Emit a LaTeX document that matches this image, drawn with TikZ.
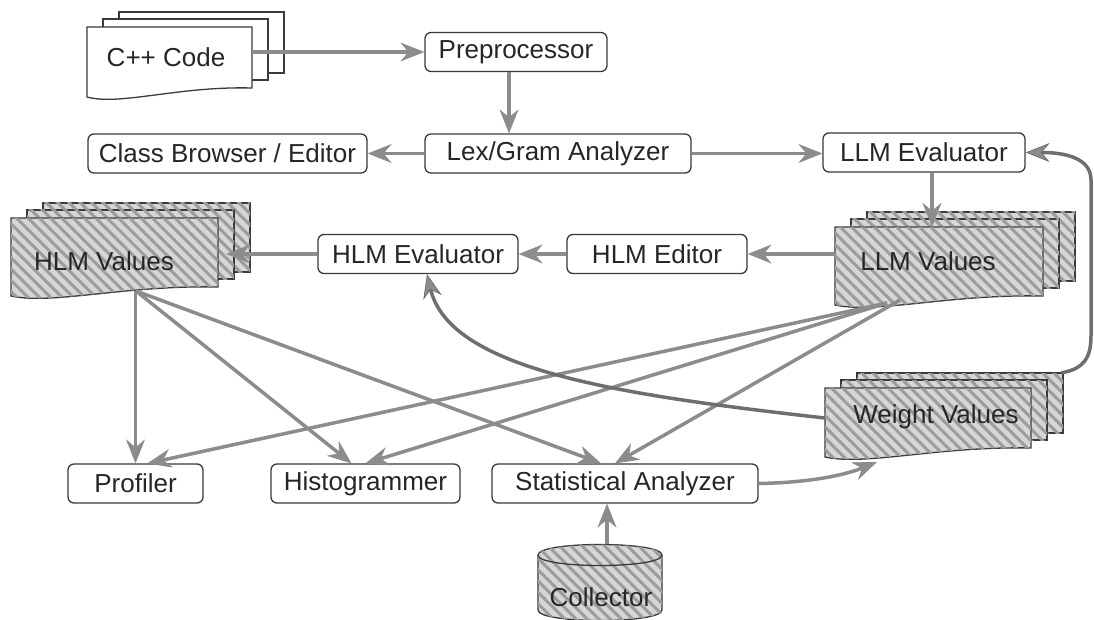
\documentclass[tikz,border=0pt]{standalone}
\usepackage{fontspec}
\setmainfont{Liberation Sans}
\usetikzlibrary{arrows.meta,patterns.meta}

\definecolor{linegray}{HTML}{8C8C8C}
\definecolor{darkline}{HTML}{6E6E6E}
\definecolor{edgecol}{HTML}{3A3A3A}
\definecolor{ink}{HTML}{262626}
\definecolor{hatchbase}{HTML}{D6D6D6}
\definecolor{hatchline}{HTML}{9C9C9C}

\tikzset{
  procbox/.style={draw=edgecol, line width=1.3pt, rounded corners=6pt, fill=white,
    text=ink, font=\fontsize{26}{30}\selectfont, minimum height=39pt, inner sep=0pt},
  sheet/.style={draw=edgecol, line width=1.3pt, fill=white},
  hatched/.style={draw=edgecol, line width=1.3pt, fill=hatchbase,
    postaction={pattern={Lines[angle=-45,distance=8pt,line width=3pt]}, pattern color=hatchline}},
  doctext/.style={text=ink, font=\fontsize{26}{30}\selectfont, inner sep=0pt},
  conn/.style={draw=linegray, line width=3.5pt,
    -{Stealth[length=24pt,width=19pt,inset=8pt,line width=0.8pt,fill=linegray]}},
  darkconn/.style={conn, draw=darkline},
}

% stack of three sheets: name, style, left, top, width, height, text x, text y, text
\newcommand{\docstack}[9]{%
  \path[#2] (#3+32,#4-15) rectangle ++(#5,#6);
  \path[#2] (#3+16,#4-8) rectangle ++(#5,#6);
  \path[#2] (#3,#4) -- (#3+#5,#4) -- (#3+#5,#4+#6)
     .. controls (#3+0.55*#5,#4+#6-2) and (#3+0.2*#5,#4+#6+18) .. (#3,#4+#6+9) -- cycle;
  \node[inner sep=0pt, minimum width=#5pt, minimum height=#6pt] (#1) at (#3+0.5*#5,#4+0.5*#6) {};
  \node[doctext] at (#7,#8) {#9};
}

\begin{document}
\begin{tikzpicture}[x=1pt, y=-1pt]
  \useasboundingbox (0,0) rectangle (1094,620);
  \fill[white] (0,0) rectangle (1094,620);

  % data sheets
  \docstack{cpp}{sheet}{87}{27}{165}{61}{166}{57}{C++ Code}
  \docstack{hlmv}{hatched}{11}{218}{207}{69}{104}{261}{HLM Values}
  \docstack{llmv}{hatched}{835}{227}{208}{69}{928}{261}{LLM Values}
  \docstack{wv}{hatched}{825}{388}{206}{60}{936}{417}{Weight Values}

  % collector drum
  \path[hatched] (538,555) -- (538,610) .. controls (538,624) and (662,624) .. (662,610)
     -- (662,555) .. controls (662,541) and (538,541) .. (538,555) -- cycle;
  \draw[draw=edgecol, line width=1.3pt] (538,555) .. controls (538,569) and (662,569) .. (662,555);
  \node[inner sep=0pt, minimum width=124pt, minimum height=76pt] (coll) at (600,582) {};
  \node[doctext] at (601,597) {Collector};

  % processing steps
  \node[procbox, minimum width=182pt] (pre)   at (516,52)      {Preprocessor};
  \node[procbox, minimum width=279pt] (cls)   at (227.5,153.5) {Class Browser / Editor};
  \node[procbox, minimum width=266pt] (lex)   at (558,153.5)   {Lex/Gram Analyzer};
  \node[procbox, minimum width=202pt] (llme)  at (924,152.5)   {LLM Evaluator};
  \node[procbox, minimum width=180pt] (hlmed) at (657,254)     {HLM Editor};
  \node[procbox, minimum width=200pt] (hlmev) at (418,254)     {HLM Evaluator};
  \node[procbox, minimum width=135pt] (prof)  at (135.5,483.5) {Profiler};
  \node[procbox, minimum width=189pt] (histo) at (365.5,483.5) {Histogrammer};
  \node[procbox, minimum width=266pt] (stat)  at (625,483.5)   {Statistical Analyzer};

  % fan-out points under the value sheets
  \coordinate (hlmsrc)  at (136,291);
  \coordinate (llmsrcA) at (887,303);
  \coordinate (llmsrcB) at (900,300);

  % data flow
  \draw[conn] (cpp.east |- pre.west) -- (pre.west);
  \draw[conn] ([xshift=-7pt]pre.south) -- ([xshift=-7pt]pre.south |- lex.north);
  \draw[conn] (lex.west) -- (cls.east);
  \draw[conn] (lex.east) -- (lex.east -| llme.west);
  \draw[conn] ([xshift=8pt]llme.south) -- ([xshift=8pt]llme.south |- llmv.north);
  \draw[conn] (llmv.west |- hlmed.east) -- (hlmed.east);
  \draw[conn] (hlmed.west) -- (hlmev.east);
  \draw[conn] (hlmev.west) -- ([xshift=8pt]hlmv.east |- hlmev.west);

  \draw[conn] (prof.north |- hlmsrc) -- (prof.north);
  \draw[conn] (hlmsrc) -- ([xshift=-14pt]histo.north);
  \draw[conn] (hlmsrc) -- ([xshift=-24pt]stat.north);
  \draw[conn] (llmsrcA) -- ([xshift=12pt]prof.north);
  \draw[conn] (llmsrcA) -- (histo.north);
  \draw[conn] (llmsrcB) -- ([xshift=-10pt]stat.north);

  \draw[conn] ([xshift=7pt]coll.north) -- ([xshift=7pt]coll.north |- stat.south);
  \draw[conn] (stat.east) .. controls +(55,-1) and +(-30,12) .. ([shift={(52,14)}]wv.south west);

  % weight feedback
  \draw[darkconn] (wv.west) .. controls (620,395) and (450,370) .. ([xshift=9pt]hlmev.south);
  \draw[darkconn] ([shift={(30,-15)}]wv.north east) .. controls +(25,-4) and +(0,20) .. (1091,335)
     -- (1091,180) .. controls +(0,-25) and +(32,0) .. (llme.east);
\end{tikzpicture}
\end{document}
